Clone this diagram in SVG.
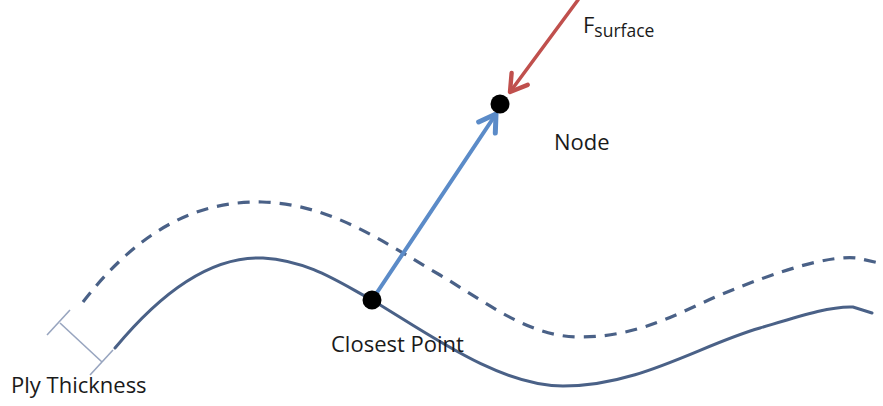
<svg xmlns="http://www.w3.org/2000/svg" width="883" height="406" viewBox="0 0 883 406">
  <style>
    .surface { fill: none; stroke: #4a6187; stroke-width: 3; stroke-linecap: round; }
    .offset { fill: none; stroke: #4a6187; stroke-width: 3.2; stroke-dasharray: 12 9; }
    .bracket { fill: none; stroke: #98a5bf; stroke-width: 1.6; }
    .dot { fill: #000; }
    .label { font-family: "Open Sans", "Liberation Sans", sans-serif; font-size: 22px; fill: #1a1a1a; }
    .sub { font-size: 17.5px; }
  </style>
  <defs>
    <marker id="headBlue" markerUnits="userSpaceOnUse" markerWidth="30" markerHeight="30" viewBox="-16 -12 20 24" refX="0" refY="0" orient="auto">
      <path d="M-13,-8 L0,0 L-13,8" fill="none" stroke="#5b8bc8" stroke-width="4" stroke-linecap="round" stroke-linejoin="round"/>
    </marker>
    <marker id="headRed" markerUnits="userSpaceOnUse" markerWidth="30" markerHeight="30" viewBox="-16 -12 20 24" refX="0" refY="0" orient="auto">
      <path d="M-13,-8 L0,0 L-13,8" fill="none" stroke="#c0504d" stroke-width="3.5" stroke-linecap="round" stroke-linejoin="round"/>
    </marker>
  </defs>

  <!-- ply surfaces -->
  <g id="surfaces">
    <path id="surface-outer" class="offset" d="M83,302 C145,222 205,201 262,202 C330,204 380,240 440,275 C490,305 530,337 580,337 C640,337 680,312 720,295 C780,270 830,255 857,258 L879,263"/>
    <path id="surface-inner" class="surface" d="M115,348 C168,284 218,256 263,258 C310,261 340,283 372,300 C430,335 500,386 563,386 C640,386 700,345 760,328 C800,316 830,306 853,307 L872,313"/>
  </g>

  <!-- thickness bracket -->
  <g id="ply-thickness-bracket">
    <line class="bracket" x1="60" y1="323" x2="102" y2="362"/>
    <line class="bracket" x1="47" y1="335" x2="70" y2="310"/>
    <line class="bracket" x1="90" y1="375" x2="113" y2="350"/>
  </g>

  <!-- connectors -->
  <g id="connectors">
    <line id="offset-vector" x1="372" y1="300" x2="496" y2="114" stroke="#5b8bc8" stroke-width="4" stroke-linecap="round" marker-end="url(#headBlue)"/>
    <line id="force-vector" x1="578" y1="0" x2="510" y2="92" stroke="#c0504d" stroke-width="3.5" stroke-linecap="round" marker-end="url(#headRed)"/>
  </g>

  <g id="node">
    <circle class="dot" cx="500" cy="104" r="9.5"/>
    <text class="label" x="554" y="150">Node</text>
  </g>

  <g id="closest-point">
    <circle class="dot" cx="372" cy="300" r="9.5"/>
    <text class="label" x="331" y="352">Closest Point</text>
  </g>

  <g id="force-label">
    <text class="label" x="583" y="33">F<tspan class="sub" dy="4">surface</tspan></text>
  </g>

  <g id="thickness-label">
    <text class="label" x="11" y="393">Ply Thickness</text>
  </g>
</svg>
